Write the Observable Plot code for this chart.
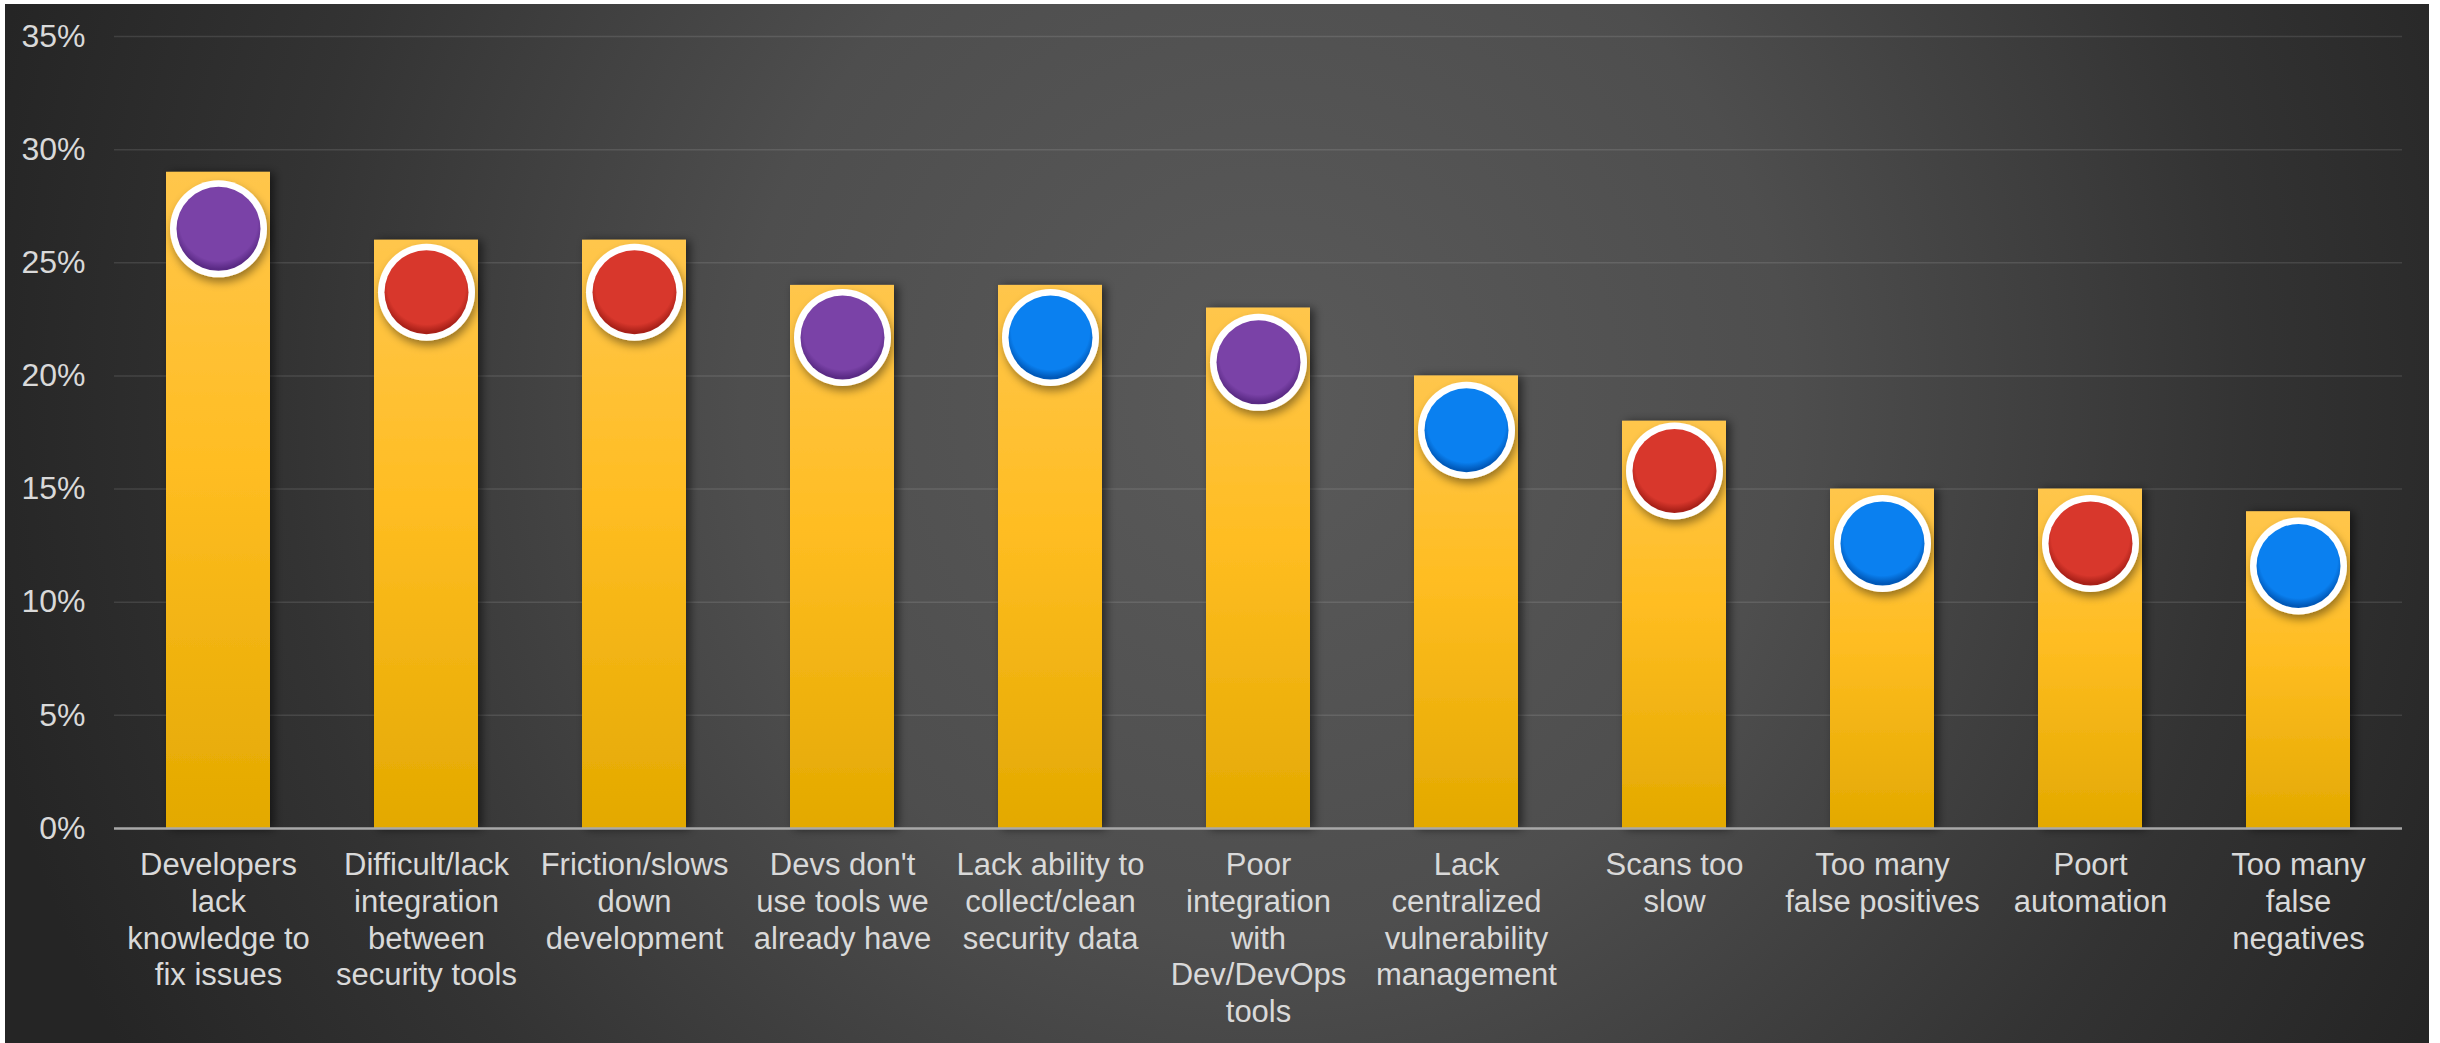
<!DOCTYPE html>
<html>
<head>
<meta charset="utf-8">
<script src="https://cdn.jsdelivr.net/npm/d3@7"></script>
<script src="https://cdn.jsdelivr.net/npm/@observablehq/plot@0.6"></script>
<style>
  html, body { margin: 0; padding: 0; background: #ffffff; }
  #frame {
    position: absolute; left: 5px; top: 4px; width: 2424px; height: 1039px;
    background: radial-gradient(ellipse 54% 130% at 52% 38%, #5a5a5a 0%, #4e4e4e 40%, #333333 75%, #252525 100%);
    overflow: hidden;
  }
  #frame svg { display: block; }
</style>
</head>
<body>
<div id="frame"></div>
<script>
// ---- data ----
const categories = [
  "Developers lack knowledge to fix issues",
  "Difficult/lack integration between security tools",
  "Friction/slows down development",
  "Devs don't use tools we already have",
  "Lack ability to collect/clean security data",
  "Poor integration with Dev/DevOps tools",
  "Lack centralized vulnerability management",
  "Scans too slow",
  "Too many false positives",
  "Poort automation",
  "Too many false negatives"
];
const tickLabels = [
  "Developers\nlack\nknowledge to\nfix issues",
  "Difficult/lack\nintegration\nbetween\nsecurity tools",
  "Friction/slows\ndown\ndevelopment",
  "Devs don't\nuse tools we\nalready have",
  "Lack ability to\ncollect/clean\nsecurity data",
  "Poor\nintegration\nwith\nDev/DevOps\ntools",
  "Lack\ncentralized\nvulnerability\nmanagement",
  "Scans too\nslow",
  "Too many\nfalse positives",
  "Poort\nautomation",
  "Too many\nfalse\nnegatives"
];
const barValues = [29, 26, 26, 24, 24, 23, 20, 18, 15, 15, 14];
const markerValues = [26.5, 23.7, 23.7, 21.7, 21.7, 20.6, 17.6, 15.8, 12.6, 12.6, 11.6];
const markerGroups = ["purple", "red", "red", "purple", "blue", "purple", "blue", "red", "blue", "red", "blue"];
const yTicks = [0, 5, 10, 15, 20, 25, 30, 35];

const groupColors = {purple: "#7a42a7", red: "#d8372c", blue: "#0a80f0"};
const groupDark = {purple: "#5a2a85", red: "#a82018", blue: "#0058b8"};

const data = categories.map((c, i) => ({
  category: c,
  label: tickLabels[i],
  value: barValues[i],
  marker: markerValues[i],
  group: markerGroups[i]
}));

const svg = Plot.plot({
  width: 2424,
  height: 1039,
  marginTop: 32,
  marginBottom: 215,
  marginLeft: 109,
  marginRight: 27,
  style: {background: "transparent", fontFamily: "'Liberation Sans', Arial, sans-serif", color: "#d9d9d9", overflow: "visible"},
  x: {domain: categories, paddingInner: 0.5, paddingOuter: 0.25, axis: null},
  y: {domain: [0, 35], axis: null},
  color: {type: "identity"},
  marks: [
    Plot.ruleY(yTicks.filter(d => d > 0), {stroke: "#ffffff", strokeOpacity: 0.11, strokeWidth: 1.5}),
    Plot.axisY({ticks: yTicks, tickFormat: d => d + "%", tickSize: 0, tickPadding: 29, fontSize: 32, fill: "#d9d9d9", label: null}),
    Plot.barY(data, {x: "category", y: "value", fill: "url(#barGrad)"}),
    Plot.ruleY([0], {stroke: "#a8a8a8", strokeWidth: 2.5}),
    Plot.dot(data, {x: "category", y: "marker", r: 48.5, fill: "#ffffff", stroke: "none"}),
    Plot.dot(data, {x: "category", y: "marker", r: 42, fill: d => `url(#grad-${d.group})`, stroke: "none"}),
    Plot.text(data, {x: "category", y: () => 0, text: "label", lineAnchor: "top", dy: 21, fontSize: 31, lineHeight: 1.18, fill: "#d9d9d9", textAnchor: "middle"})
  ]
});

const s = d3.select(svg);
const defs = s.insert("defs", ":first-child");
const bg = defs.append("linearGradient").attr("id", "barGrad").attr("x1", 0).attr("y1", 0).attr("x2", 0).attr("y2", 1);
bg.append("stop").attr("offset", "0%").attr("stop-color", "#ffc64c");
bg.append("stop").attr("offset", "45%").attr("stop-color", "#ffbd22");
bg.append("stop").attr("offset", "100%").attr("stop-color", "#e3a900");

for (const g of Object.keys(groupColors)) {
  const rg = defs.append("radialGradient").attr("id", `grad-${g}`)
    .attr("cx", 0.5).attr("cy", 0.42).attr("r", 0.58);
  rg.append("stop").attr("offset", "0%").attr("stop-color", groupColors[g]);
  rg.append("stop").attr("offset", "80%").attr("stop-color", groupColors[g]);
  rg.append("stop").attr("offset", "96%").attr("stop-color", groupDark[g]);
  rg.append("stop").attr("offset", "100%").attr("stop-color", groupDark[g]);
}

const f1 = defs.append("filter").attr("id", "barShadow").attr("x", "-20%").attr("y", "-10%").attr("width", "150%").attr("height", "120%");
f1.append("feDropShadow").attr("dx", 4).attr("dy", 1).attr("stdDeviation", 5).attr("flood-color", "#000").attr("flood-opacity", 0.55);
const f2 = defs.append("filter").attr("id", "dotShadow").attr("x", "-30%").attr("y", "-30%").attr("width", "160%").attr("height", "170%");
f2.append("feDropShadow").attr("dx", 2).attr("dy", 5).attr("stdDeviation", 4).attr("flood-color", "#000").attr("flood-opacity", 0.4);

s.selectAll("g[aria-label='bar']").attr("filter", "url(#barShadow)");
const dots = s.selectAll("g[aria-label='dot']").nodes();
if (dots[0]) d3.select(dots[0]).attr("filter", "url(#dotShadow)");

document.getElementById("frame").appendChild(svg);
</script>
</body>
</html>
